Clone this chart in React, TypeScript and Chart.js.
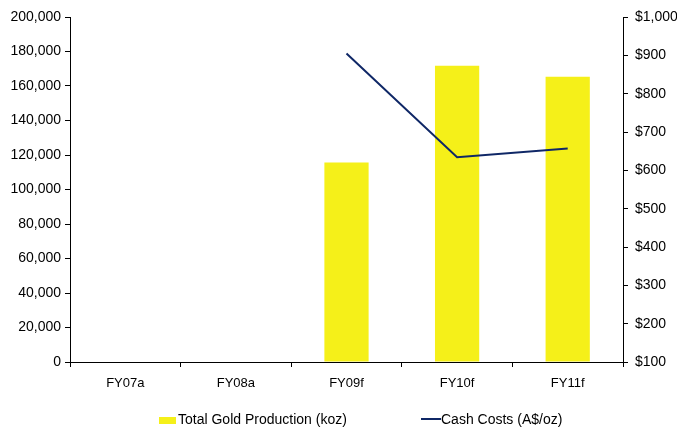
import React, { useEffect, useRef } from "react";
import { Chart, registerables } from "chart.js";

Chart.register(...registerables);

const categories = ["FY07a", "FY08a", "FY09f", "FY10f", "FY11f"];
const goldProduction = [null, null, 115600, 171700, 165300];
const cashCosts = [null, null, 905, 634, 657];
const leftTicks = { min: 0, max: 200000, step: 20000 };
const rightTicks = { min: 100, max: 1000, step: 100 };

const BAR_COLOR = "#F5F019";
const LINE_COLOR = "#0F2766";
const FONT = "Arial, 'Liberation Sans', sans-serif";

export default function App() {
  const ref = useRef<HTMLCanvasElement | null>(null);

  useEffect(() => {
    if (!ref.current) return;
    const chart = new Chart(ref.current, {
      type: "bar",
      data: {
        labels: categories,
        datasets: [
          {
            type: "line",
            label: "Cash Costs (A$/oz)",
            data: cashCosts as any,
            borderColor: LINE_COLOR,
            backgroundColor: LINE_COLOR,
            borderWidth: 2,
            pointRadius: 0,
            yAxisID: "y1",
            order: 0,
          },
          {
            type: "bar",
            label: "Total Gold Production (koz)",
            data: goldProduction as any,
            backgroundColor: BAR_COLOR,
            borderWidth: 0,
            barPercentage: 0.4,
            categoryPercentage: 1.0,
            yAxisID: "y",
            order: 1,
          },
        ],
      },
      options: {
        responsive: false,
        animation: false,
        layout: { padding: { top: 17, bottom: 32, left: 0, right: 0 } },
        plugins: { legend: { display: false }, tooltip: { enabled: false } },
        scales: {
          x: {
            offset: true,
            grid: {
              offset: true,
              drawOnChartArea: false,
              drawTicks: true,
              tickLength: 5,
              color: "#000",
            },
            border: { color: "#000", width: 1 },
            ticks: { color: "#000", padding: 9, font: { family: FONT, size: 13 } },
            afterFit: (s: any) => {
              s.height = 36;
            },
          },
          y: {
            position: "left",
            min: leftTicks.min,
            max: leftTicks.max,
            grid: { drawOnChartArea: false, tickLength: 5, color: "#000" },
            border: { color: "#000", width: 1 },
            ticks: {
              stepSize: leftTicks.step,
              color: "#000",
              padding: 4,
              font: { family: FONT, size: 14 },
              callback: (v: any) => Number(v).toLocaleString("en-US"),
            },
            afterFit: (s: any) => {
              s.width = 70;
            },
          },
          y1: {
            position: "right",
            min: rightTicks.min,
            max: rightTicks.max,
            grid: { drawOnChartArea: false, tickLength: 5, color: "#000" },
            border: { color: "#000", width: 1 },
            ticks: {
              stepSize: rightTicks.step,
              color: "#000",
              padding: 7,
              font: { family: FONT, size: 14 },
              callback: (v: any) => "$" + Number(v).toLocaleString("en-US"),
            },
            afterFit: (s: any) => {
              s.width = 54;
            },
          },
        },
      },
    });
    return () => chart.destroy();
  }, []);

  const textStyle: React.CSSProperties = {
    position: "absolute",
    fontFamily: FONT,
    fontSize: 14,
    color: "#000",
    lineHeight: "16px",
    whiteSpace: "nowrap",
  };

  return (
    <div
      style={{
        position: "fixed",
        left: 0,
        top: 0,
        width: 677,
        height: 430,
        background: "#fff",
        overflow: "hidden",
      }}
    >
      <canvas
        ref={ref}
        width={677}
        height={430}
        style={{ position: "absolute", left: 0, top: 0, display: "block" }}
      />
      <div
        style={{
          position: "absolute",
          left: 159,
          top: 417,
          width: 17,
          height: 7,
          background: BAR_COLOR,
        }}
      />
      <div style={{ ...textStyle, left: 178, top: 411 }}>Total Gold Production (koz)</div>
      <div
        style={{
          position: "absolute",
          left: 421,
          top: 418,
          width: 20,
          height: 1.5,
          background: LINE_COLOR,
        }}
      />
      <div style={{ ...textStyle, left: 441, top: 411 }}>Cash Costs (A$/oz)</div>
    </div>
  );
}
